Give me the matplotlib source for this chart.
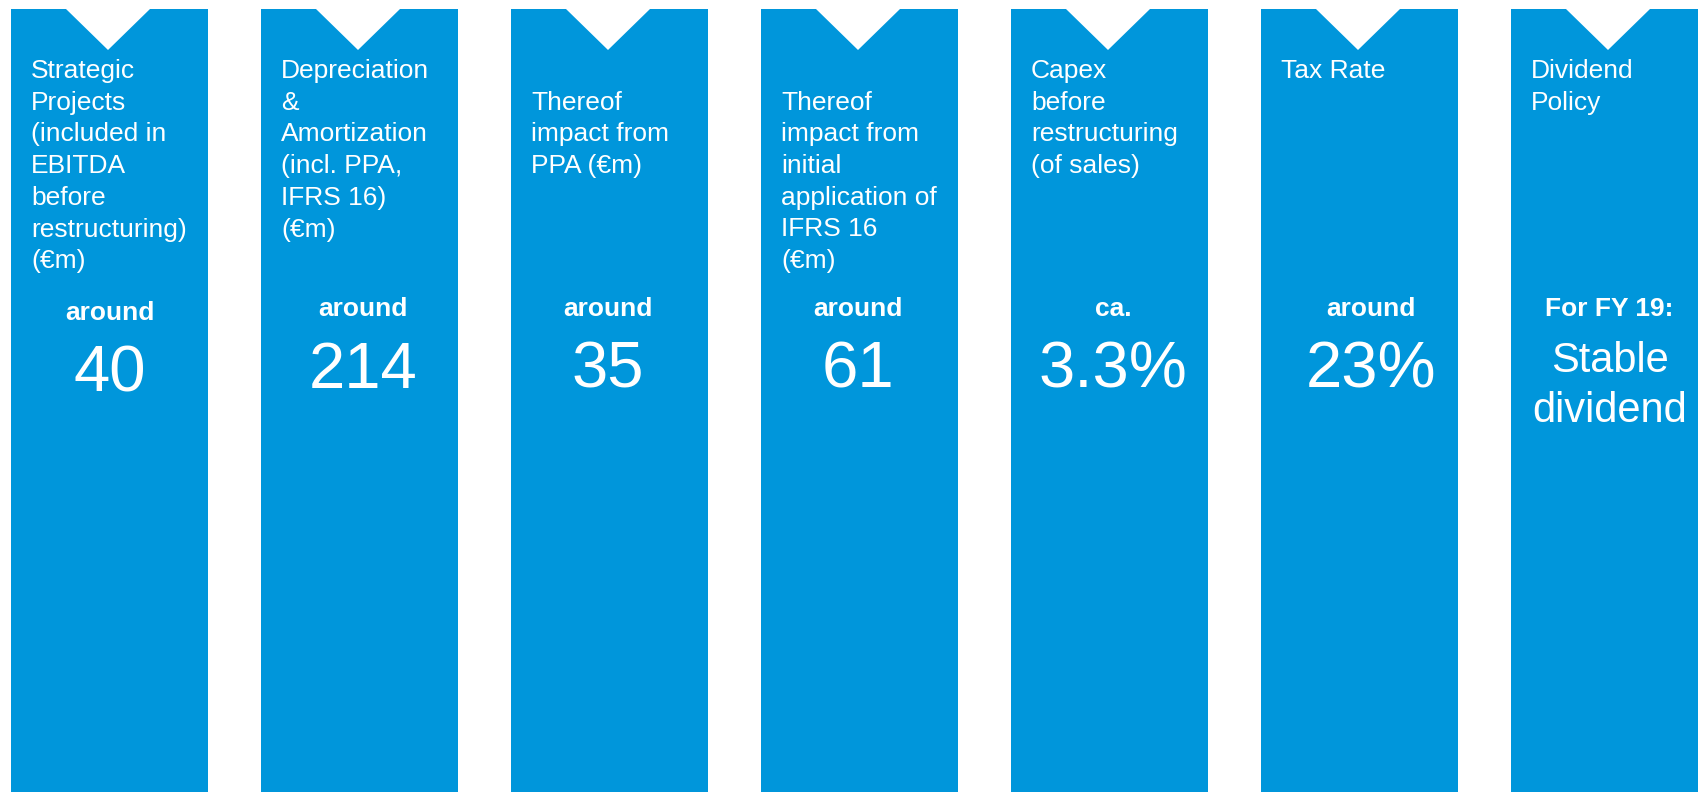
import matplotlib
matplotlib.use("Agg")
import matplotlib.pyplot as plt
from matplotlib.patches import Polygon

plt.rcParams["font.family"] = ["Liberation Sans", "DejaVu Sans"]

# --- Inhalt der Spalten ---
titles = [
    ["Strategic", "Projects", "(included in", "EBITDA", "before", "restructuring)", "(€m)"],
    ["Depreciation", "&", "Amortization", "(incl. PPA,", "IFRS 16)", "(€m)"],
    ["", "Thereof", "impact from", "PPA (€m)"],
    ["", "Thereof", "impact from", "initial", "application of", "IFRS 16", "(€m)"],
    ["Capex", "before", "restructuring", "(of sales)"],
    ["Tax Rate"],
    ["Dividend", "Policy"],
]
prefixes = ["around", "around", "around", "around", "ca.", "around", "For FY 19:"]
values = ["40", "214", "35", "61", "3.3%", "23%", "Stable\ndividend"]

# kleine Korrekturen der Textmitte (px), wie im Original
value_dx = [0, 3.5, -1.5, -1.5, 3.5, 11.5, 0]
value_dy = [4, 0, 0, 0, 0, 0, 0]

BLUE = "#0096DB"
W, H = 1698, 792
COL_X0, PITCH, COL_W = 11, 250, 197
TOP, NOTCH_HW, NOTCH_Y, NOTCH_C = 9, 42, 50, 97

fig = plt.figure(figsize=(W / 100, H / 100), dpi=100)
ax = fig.add_axes([0, 0, 1, 1])
ax.set_xlim(0, W)
ax.set_ylim(H, 0)
ax.axis("off")

for i, (title, pre, val) in enumerate(zip(titles, prefixes, values)):
    x0 = COL_X0 + i * PITCH
    x1 = min(x0 + COL_W, W)
    nc = x0 + NOTCH_C
    poly = Polygon(
        [(x0, TOP), (nc - NOTCH_HW, TOP), (nc, NOTCH_Y), (nc + NOTCH_HW, TOP),
         (x1, TOP), (x1, H), (x0, H)],
        closed=True, facecolor=BLUE, edgecolor="none",
    )
    ax.add_patch(poly)

    # Überschrift, Zeile für Zeile
    for k, line in enumerate(title):
        ax.text(x0 + 20, 78 + k * 31.7, line, color="white", fontsize=19,
                ha="left", va="baseline")

    cx = x0 + 98.5 + value_dx[i]
    dy = value_dy[i]
    ax.text(cx, 316 + dy, pre, color="white", fontsize=19, fontweight="bold",
            ha="center", va="baseline")
    if "\n" in val:
        for k, line in enumerate(val.split("\n")):
            ax.text(cx, 372 + k * 50, line, color="white", fontsize=30,
                    ha="center", va="baseline")
    else:
        ax.text(cx, 388 + dy, val, color="white", fontsize=47,
                ha="center", va="baseline")

fig.savefig("out.png", dpi=100, facecolor="white")
